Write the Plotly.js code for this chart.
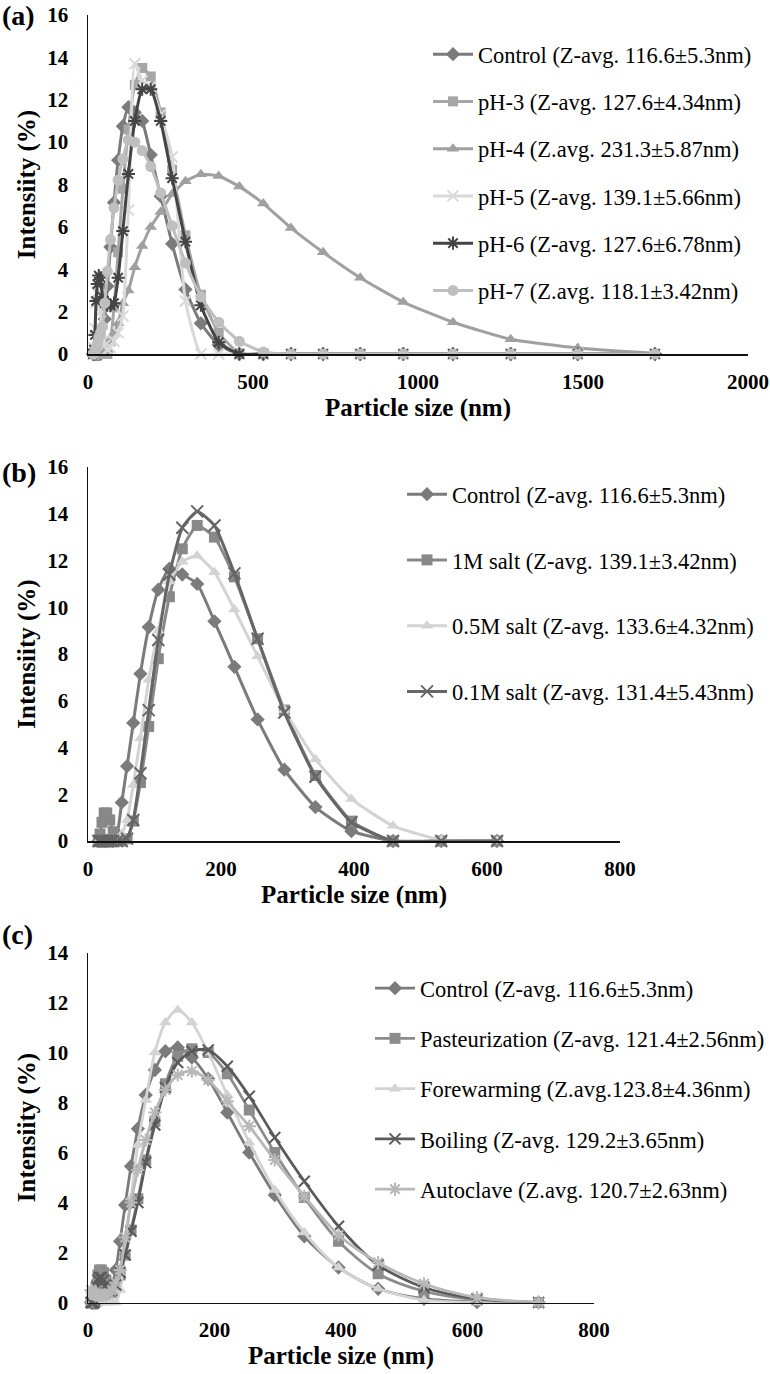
<!DOCTYPE html>
<html><head><meta charset="utf-8">
<script src="https://cdn.plot.ly/plotly-3.0.1.min.js"></script>
<style>html,body{margin:0;padding:0;background:#fff}#chart{width:770px;height:1374px}</style>
</head><body><div id="chart"></div>
<script>
// ---------- DATA ----------
// Particle size bins (nm)
const sizesA = [15.69,18.17,21.04,24.36,28.21,32.67,37.84,43.82,50.75,58.77,68.06,78.82,91.28,105.7,122.4,141.8,164.2,190.1,220.2,255.0,295.3,342.0,396.1,458.7,531.2,615.1,712.4,825.0,955.4,1106,1281,1484,1718];
const sizesB = [15.69,18.17,21.04,24.36,28.21,32.67,37.84,43.82,50.75,58.77,68.06,78.82,91.28,105.7,122.4,141.8,164.2,190.1,220.2,255.0,295.3,342.0,396.1,458.7,531.2,615.1];
const sizesC = [4.849,5.615,6.503,7.531,8.721,10.1,11.7,13.54,15.69,18.17,21.04,24.36,28.21,32.67,37.84,43.82,50.75,58.77,68.06,78.82,91.28,105.7,122.4,141.8,164.2,190.1,220.2,255.0,295.3,342.0,396.1,458.7,531.2,615.1,712.4];

// (a) pH series
const aControl = [0,0,0,0,0,0,0,0.3,1.65,3.2,5.05,7.15,9.15,10.75,11.65,11.4,11.0,9.4,7.45,5.2,3.05,1.45,0.42,0,0,0,0,0,0,0,0,0,0];
const aPH3 = [0,0,0,0,0,0,0,0,0,0,0.6,2.2,4.8,7.8,10.6,12.7,13.5,13.1,11.4,8.7,5.6,2.8,1.0,0.03,0,0,0,0,0,0,0,0,0];
const aPH4 = [0,0,0,0,0,0,0,0,0,0.2,0.6,1.0,1.45,2.4,3.0,4.1,5.1,6.0,6.7,7.55,8.15,8.48,8.4,7.9,7.1,5.95,4.8,3.6,2.45,1.5,0.7,0.28,0.03];
const aPH5 = [0,0.3,1.2,2.4,2.9,2.8,2.0,1.0,0.4,0.2,0.3,0.6,1.0,1.8,6.8,13.7,12.9,12.6,11.3,9.3,2.5,0,0,0,0,0,0,0,0,0,0,0,0];
const aPH6 = [0,0.2,0.9,2.5,3.3,3.7,3.6,2.7,2.4,2.3,2.3,2.4,3.6,5.8,8.5,11.0,12.5,12.5,11.0,8.3,5.3,2.3,0.55,0,0,0,0,0,0,0,0,0,0];
const aPH7 = [0,0,0.1,0.3,0.5,0.8,1.0,1.3,2.4,3.9,5.4,6.9,8.2,9.2,10.1,10.0,9.6,8.85,7.6,6.05,4.3,2.7,1.5,0.6,0.1,0,0,0,0,0,0,0,0];

// (b) salt series
const bControl = [0,0,0,0,0,0,0,0.3,1.65,3.2,5.05,7.15,9.15,10.75,11.65,11.4,11.0,9.4,7.45,5.2,3.05,1.45,0.42,0,0,0];
const bSalt1M = [0,0.3,0.8,1.2,1.2,0.9,0.4,0,0,0.1,0.85,2.5,4.9,7.8,10.45,12.5,13.5,13.0,11.3,8.65,5.6,2.8,0.85,0,0,0];
const bSalt05M = [0,0,0,0,0,0,0,0,0.3,0.9,2.4,4.4,6.9,9.0,11.1,11.95,12.2,11.5,9.9,7.9,5.6,3.5,1.8,0.65,0.05,0];
const bSalt01M = [0,0,0,0,0,0,0,0,0,0.1,0.9,2.9,5.6,8.6,11.4,13.4,14.1,13.5,11.45,8.65,5.5,2.75,0.8,0,0,0];

// (c) heat treatment series
const cControl = [0,0,0,0,0,0,0,0,0,0.1,0.2,0.3,0.3,0.4,0.7,1.3,2.45,3.9,5.45,6.95,8.3,9.3,10.05,10.2,9.8,8.95,7.6,6.0,4.3,2.65,1.4,0.55,0.15,0.02,0];
const cPasteur = [0,0,0,0,0,0,0.3,0.7,1.1,1.3,1.3,1.2,0.9,0.6,0.4,0.6,1.1,1.9,2.9,4.15,5.7,7.25,8.75,9.85,10.15,10.0,9.15,7.7,6.0,4.2,2.45,1.15,0.45,0.1,0];
const cForewarm = [0.3,0.2,0.1,0,0,0,0,0,0,0,0,0,0,0,0,0,0.5,2.1,4.2,6.3,8.1,10.0,11.2,11.7,11.2,10.0,8.3,6.4,4.5,2.8,1.4,0.55,0.1,0,0];
const cBoiling = [0,0,0,0,0,0.1,0.3,0.6,0.9,1.0,1.0,0.9,0.7,0.5,0.5,0.7,1.2,1.9,2.85,4.0,5.6,7.1,8.6,9.6,10.05,10.1,9.45,8.25,6.6,4.85,3.05,1.5,0.6,0.15,0];
const cAutoclave = [0.5,0.5,0.45,0.4,0.35,0.3,0.3,0.3,0.3,0.3,0.3,0.3,0.3,0.35,0.5,0.8,1.3,2.6,4.0,5.3,6.5,7.6,8.5,9.1,9.25,8.9,8.05,7.05,5.7,4.25,2.7,1.6,0.75,0.2,0];

// Legend labels
const labelsA = ["Control (Z-avg. 116.6±5.3nm)","pH-3 (Z-avg. 127.6±4.34nm)","pH-4 (Z.avg. 231.3±5.87nm)","pH-5 (Z-avg. 139.1±5.66nm)","pH-6 (Z-avg. 127.6±6.78nm)","pH-7 (Z.avg. 118.1±3.42nm)"];
const labelsB = ["Control (Z-avg. 116.6±5.3nm)","1M salt (Z-avg. 139.1±3.42nm)","0.5M salt (Z-avg. 133.6±4.32nm)","0.1M salt (Z-avg. 131.4±5.43nm)"];
const labelsC = ["Control (Z-avg. 116.6±5.3nm)","Pasteurization (Z-avg. 121.4±2.56nm)","Forewarming (Z.avg.123.8±4.36nm)","Boiling (Z-avg. 129.2±3.65nm)","Autoclave (Z.avg. 120.7±2.63nm)"];

// ---------- STYLE ----------
const W = 770, H = 1374;
const SERIF = "Liberation Serif, Times New Roman, serif";
const px = v => v / W;
const py = v => 1 - v / H;

function series(x, y, name, color, symbol, size, axis, legend, group, smooth, lw) {
  const open = symbol === 'x-thin-open' || symbol === 'asterisk-open';
  const s = axis === 1 ? '' : String(axis);
  return {
    type: 'scatter', mode: 'lines+markers', x: x, y: y, name: name,
    xaxis: 'x' + s, yaxis: 'y' + s,
    legend: legend, legendgroup: group, cliponaxis: false,
    line: { color: color, width: lw, shape: 'spline', smoothing: smooth },
    marker: { symbol: symbol, size: size, color: color,
      line: { color: color, width: open ? 2 : 0 } },
    hoverinfo: 'x+y+name'
  };
}

const data = [
  series(sizesA, aControl, labelsA[0], '#7b7b7b', 'diamond', 11, 1, 'legend', 'a0', 0.5, 3),
  series(sizesA, aPH3, labelsA[1], '#a6a6a6', 'square', 10, 1, 'legend', 'a1', 0.5, 3),
  series(sizesA, aPH4, labelsA[2], '#a0a0a0', 'triangle-up', 11, 1, 'legend', 'a2', 0.5, 3),
  series(sizesA, aPH5, labelsA[3], '#d9d9d9', 'x-thin-open', 11, 1, 'legend', 'a3', 0.5, 3),
  series(sizesA, aPH6, labelsA[4], '#444444', 'asterisk-open', 11, 1, 'legend', 'a4', 0.5, 3),
  series(sizesA, aPH7, labelsA[5], '#bfbfbf', 'circle', 11, 1, 'legend', 'a5', 0.5, 3),

  series(sizesB, bControl, labelsB[0], '#7b7b7b', 'diamond', 11, 2, 'legend2', 'b0', 0.5, 3),
  series(sizesB, bSalt1M, labelsB[1], '#888888', 'square', 11, 2, 'legend2', 'b1', 0.5, 3),
  series(sizesB, bSalt05M, labelsB[2], '#d3d3d3', 'triangle-up', 11, 2, 'legend2', 'b2', 0.5, 3),
  series(sizesB, bSalt01M, labelsB[3], '#666666', 'x-thin-open', 12, 2, 'legend2', 'b3', 0.5, 3),

  series(sizesC, cControl, labelsC[0], '#7b7b7b', 'diamond', 11, 3, 'legend3', 'c0', 0.8, 2.8),
  series(sizesC, cPasteur, labelsC[1], '#8c8c8c', 'square', 11, 3, 'legend3', 'c1', 0.8, 2.8),
  series(sizesC, cForewarm, labelsC[2], '#d3d3d3', 'triangle-up', 11, 3, 'legend3', 'c2', 0.8, 2.8),
  series(sizesC, cBoiling, labelsC[3], '#5a5a5a', 'x-thin-open', 11, 3, 'legend3', 'c3', 0.8, 2.8),
  series(sizesC, cAutoclave, labelsC[4], '#b8b8b8', 'asterisk-open', 11, 3, 'legend3', 'c4', 0.8, 2.8)
];

const tickFont = { family: SERIF, size: 21, color: '#000', weight: 'bold' };
const titleFont = { family: SERIF, size: 25, color: '#000', weight: 'bold' };

function xAxis(dom, range, dtick, anchor) {
  return { domain: dom, range: range, dtick: dtick, tick0: 0, anchor: anchor,
    showline: true, linecolor: '#111', linewidth: 1.5,
    showgrid: false, zeroline: false, ticks: '', tickfont: tickFont, ticklabelstandoff: 8,
    title: { text: 'Particle size (nm)', font: titleFont, standoff: 5 }, fixedrange: true };
}
function yAxis(dom, range, anchor) {
  return { domain: dom, range: range, dtick: 2, tick0: 0, anchor: anchor,
    showline: true, linecolor: '#111', linewidth: 1.5,
    showgrid: false, zeroline: false, ticks: '', tickfont: tickFont, ticklabelstandoff: 14,
    title: { text: 'Intensiity (%)', font: titleFont, standoff: 4 }, fixedrange: true };
}
const legendBase = { font: { family: SERIF, size: 22.5, color: '#000' }, bgcolor: 'rgba(0,0,0,0)',
  xanchor: 'left', yanchor: 'top', itemwidth: 40, traceorder: 'grouped' };

const layout = {
  width: W, height: H, margin: { l: 0, r: 0, t: 0, b: 0 },
  paper_bgcolor: '#fff', plot_bgcolor: 'rgba(0,0,0,0)', showlegend: true,
  xaxis: xAxis([px(88), px(748)], [0, 2000], 500, 'y'),
  yaxis: yAxis([py(354), py(15)], [0, 16], 'x'),
  xaxis2: xAxis([px(88), px(620)], [0, 800], 200, 'y2'),
  yaxis2: yAxis([py(841), py(467)], [0, 16], 'x2'),
  xaxis3: xAxis([px(88), px(594)], [0, 800], 200, 'y3'),
  yaxis3: yAxis([py(1302.5), py(952.5)], [0, 14], 'x3'),
  legend: Object.assign({}, legendBase, { x: px(428), y: py(33), tracegroupgap: 15 }),
  legend2: Object.assign({}, legendBase, { x: px(402), y: py(473), tracegroupgap: 33.5 }),
  legend3: Object.assign({}, legendBase, { x: px(370), y: py(967), tracegroupgap: 18 }),
  annotations: [
    { text: '(a)', xref: 'paper', yref: 'paper', x: 0, y: py(-2), xanchor: 'left', yanchor: 'top', showarrow: false, font: { family: SERIF, size: 28, weight: 'bold', color: '#000' } },
    { text: '(b)', xref: 'paper', yref: 'paper', x: 0, y: py(455), xanchor: 'left', yanchor: 'top', showarrow: false, font: { family: SERIF, size: 28, weight: 'bold', color: '#000' } },
    { text: '(c)', xref: 'paper', yref: 'paper', x: 0, y: py(917), xanchor: 'left', yanchor: 'top', showarrow: false, font: { family: SERIF, size: 28, weight: 'bold', color: '#000' } }
  ]
};

Plotly.newPlot('chart', data, layout, { staticPlot: true, displayModeBar: false });
</script>
</body></html>
